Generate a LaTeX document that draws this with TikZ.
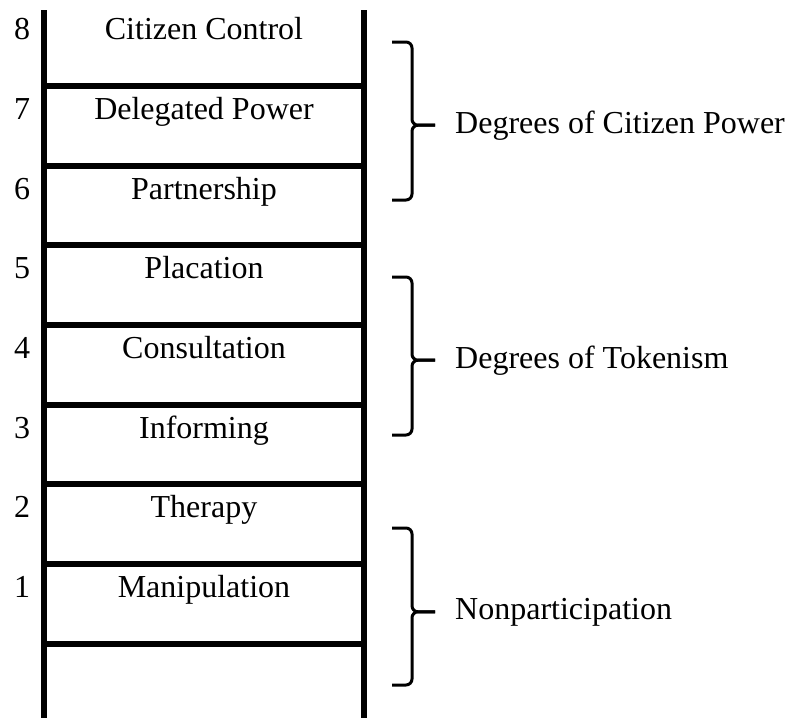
\documentclass[tikz,border=0pt]{standalone}
\usepackage{fontspec}
\setmainfont{Liberation Serif}
\usetikzlibrary{positioning}

\begin{document}
\begin{tikzpicture}[x=1pt,y=-1pt,
		rail/.style={line width=5.5pt},
		lbl/.style={font=\fontsize{32}{38}\selectfont,anchor=base,inner sep=0pt},
		grp/.style={lbl,anchor=base west},
		bracel/.style={line width=3pt,rounded corners=6pt}]
				\useasboundingbox (0,0) rectangle (788,718);
				\coordinate (tl) at (44,10);   \coordinate (bl) at (44,718);
				\coordinate (tr) at (364,10);  \coordinate (br) at (364,718);
				\draw [rail] (tl) -- (bl);     \draw [rail] (tr) -- (br);
				\draw [rail] (44,86) -- (364,86);    \draw [rail] (44,166) -- (364,166);
				\draw [rail] (44,245) -- (364,245);  \draw [rail] (44,325) -- (364,325);
				\draw [rail] (44,405) -- (364,405);  \draw [rail] (44,484) -- (364,484);
				\draw [rail] (44,564) -- (364,564);  \draw [rail] (44,644) -- (364,644);
				\node [lbl] (n8) at (22,39) {8};     \node [lbl] (r8) at (204,39) {Citizen Control};
				\node [lbl] (n7) at (22,119) {7};    \node [lbl] (r7) at (204,119) {Delegated Power};
				\node [lbl] (n6) at (22,199) {6};    \node [lbl] (r6) at (204,199) {Partnership};
				\node [lbl] (n5) at (22,278) {5};    \node [lbl] (r5) at (204,278) {Placation};
				\node [lbl] (n4) at (22,358) {4};    \node [lbl] (r4) at (204,358) {Consultation};
				\node [lbl] (n3) at (22,438) {3};    \node [lbl] (r3) at (204,438) {Informing};
				\node [lbl] (n2) at (22,517) {2};    \node [lbl] (r2) at (204,517) {Therapy};
				\node [lbl] (n1) at (22,597) {1};    \node [lbl] (r1) at (204,597) {Manipulation};
				\node [grp] (power) at (455,133) {Degrees of Citizen Power};
				\node [grp] (token) at (455,368) {Degrees of Tokenism};
				\node [grp] (nonp) at (455,619) {Nonparticipation};
				\coordinate [left = 20pt of power.west] (tip1);
				\coordinate [left = 20pt of token.west] (tip2);
				\coordinate [left = 20pt of nonp.west] (tip3);
				\draw [bracel] (392,42) -- (412,42) |- (tip1);    \draw [bracel] (392,200) -- (412,200) |- (tip1);
				\draw [bracel] (392,277) -- (412,277) |- (tip2);  \draw [bracel] (392,435) -- (412,435) |- (tip2);
				\draw [bracel] (392,528) -- (412,528) |- (tip3);  \draw [bracel] (392,685) -- (412,685) |- (tip3);
			\end{tikzpicture}
\end{document}
